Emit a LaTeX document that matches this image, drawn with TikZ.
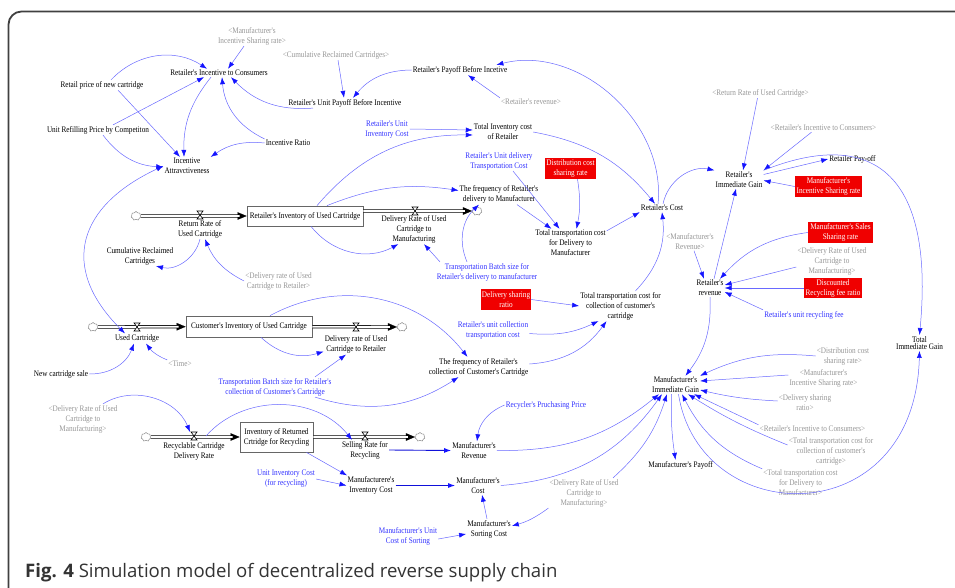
\documentclass[tikz,border=0pt]{standalone}
\usepackage{fontspec}
\newfontfamily\vensimfont[FakeStretch=0.85]{Liberation Serif}
\newfontfamily\capfont{Open Sans}
\usetikzlibrary{arrows.meta,shapes.symbols}
\definecolor{linkblue}{RGB}{105,105,255}
\definecolor{headblue}{RGB}{20,20,255}
\definecolor{constblue}{RGB}{50,50,255}
\definecolor{shadowgray}{RGB}{150,150,150}
\definecolor{boxred}{RGB}{240,0,0}
\tikzset{
  >={Latex[length=7pt,width=5pt,color=headblue]},
  var/.style={align=center, inner sep=1pt, font={\vensimfont\fontsize{8.5}{10}\selectfont}},
  shadow/.style={var, text=shadowgray},
  const/.style={var, text=constblue},
  redbox/.style={var, fill=boxred, text=white, inner sep=0pt},
  stock/.style={var, draw=black!60, line width=0.8pt, fill=white},
  sink/.style={cloud, draw=black!55, cloud puffs=7, aspect=1.1, minimum width=10pt, minimum height=9pt, inner sep=0pt},
  valve/.style={draw=black, fill=white, line width=0.6pt},
  pipe/.style={draw=black, double=white, double distance=1.8pt, line width=0.75pt, shorten >=7pt},
  pipetip/.style={line width=0.1pt, -{Triangle[length=9pt,width=7.5pt]}},
  link/.style={draw=linkblue, line width=0.5pt, ->},
  flowlink/.style={link, draw=headblue!85!black, line width=0.9pt}
}
\begin{document}
\begin{tikzpicture}[x=1pt, y=-1pt]
\useasboundingbox (0,0) rectangle (955,588);
\draw[line width=1.8pt, black!75, rounded corners=13pt] (8.5,600) -- (8.5,11.5) -- (970,11.5);

% stocks and clouds
\node[stock, minimum width=116pt, minimum height=20pt] (riuc) at (305,216) {Retailer's Inventory of Used Cartridge};
\node[stock, minimum width=126pt, minimum height=21pt] (ciuc) at (249,326.5) {Customer's Inventory of Used Cartridge};
\node[stock, minimum width=73pt, minimum height=30pt] (ircr) at (276.5,437) {Inventory of Returned\\Crtridge for Recycling};
\node[sink] (cl1) at (136,216) {};
\node[sink] (cl2) at (477,211) {};
\node[sink] (cl3) at (93,327) {};
\node[sink] (cl4) at (402,327) {};
\node[sink] (cl5) at (146,437) {};
\node[sink] (cl6) at (420,437) {};

% pipes
\draw[pipetip] (cl1) -- (riuc);
\draw[pipe] (cl1) -- (riuc);
\draw[pipetip] ([yshift=5pt]riuc.east) -- (cl2);
\draw[pipe] ([yshift=5pt]riuc.east) -- (cl2);
\draw[pipetip] (cl3) -- (ciuc);
\draw[pipe] (cl3) -- (ciuc);
\draw[pipetip] (ciuc) -- (cl4);
\draw[pipe] (ciuc) -- (cl4);
\draw[pipetip] (cl5) -- (ircr);
\draw[pipe] (cl5) -- (ircr);
\draw[pipetip] (ircr) -- (cl6);
\draw[pipe] (ircr) -- (cl6);

% valves
\foreach \vx/\vy in {200/215, 415/211, 137/327, 356/327, 194/436, 365/436}
  \draw[valve] (\vx-3,\vy-4) -- (\vx+3,\vy-4) -- (\vx-3,\vy+4) -- (\vx+3,\vy+4) -- cycle;
\coordinate (vrc) at (194,436);

% variables
\node[var] (ric) at (219,73) {Retailer's Incentive to Consumers};
\node[shadow] (misrg1) at (252,36) {<Manufacturer's\\Incentive Sharing rate>};
\node[shadow] (crcg) at (336,55) {<Cumulative Reclaimed Cartridges>};
\node[var] (rpbi) at (460,70) {Retailer's Payoff Before Incetive};
\node[var] (rupbi) at (345,103) {Retailer's Unit Payoff Before Incentive};
\node[shadow] (rrg) at (531,102) {<Retailer's revenue>};
\node[var] (rpnc) at (102,85) {Retail price of new cartridge};
\node[var] (urpc) at (98,130) {Unit Refilling Price by Competiton};
\node[var] (ir) at (288,143) {Incentive Ratio};
\node[var] (ia) at (187,166) {Incentive\\Attravctiveness};
\node[const] (ruic) at (387,129) {Retailer's Unit\\Inventory Cost};
\node[var] (ticr) at (503,132) {Total Inventory cost\\of Retailer};
\node[const] (rudtc) at (499,161) {Retailer's Unit delivery\\Transportation Cost};
\node[redbox, minimum width=51pt, minimum height=21pt] (dcsr) at (570.5,168.5) {Distribution cost\\sharing rate};
\node[var] (frdm) at (499,194.5) {The frequency of Retailer's\\delivery to Manufacturer};
\node[var] (rc) at (662,208) {Retailer's Cost};
\node[var] (ttcdm) at (570.5,243) {Total transportation cost\\for Delivery to\\Manufacturer};
\node[var] (rrflow) at (200,229) {Return Rate of\\Used Cartridge};
\node[var] (drcm) at (414,229) {Delivery Rate of Used\\Cartridge to\\Manufacturing};
\node[var] (crcart) at (140,256) {Cumulative Reclaimed\\Cartridges};
\node[shadow] (drucrg) at (278.5,281) {<Delivery rate of Used\\Cartridge to Retailer>};
\node[const] (tbsrdm) at (487,272) {Transportation Batch size for\\Retailer's delivery to manufacturer};
\node[redbox, minimum width=50pt, minimum height=21pt] (dsr) at (506,299.5) {Delivery sharing\\ratio};
\node[var] (ttccc) at (620.5,306) {Total transportation cost for\\collection of customer's\\cartridge};
\node[const] (ructc) at (493,330.5) {Retailer's unit collection\\transportation cost};
\node[var] (ucflow) at (137,338.5) {Used Cartridge};
\node[var] (drcr) at (356,344.5) {Delivery rate of Used\\Cartridge to Retailer};
\node[shadow] (timeg) at (180,364) {<Time>};
\node[var] (ncs) at (61,374) {New cartridge sale};
\node[var] (frccc) at (478.5,367) {The frequency of Retailer's\\collection of Customer's Cartridge};
\node[const] (tbsrcc) at (275,387) {Transportation Batch size for Retailer's\\collection of Customer's Cartridge};
\node[shadow] (drucmg1) at (83,419) {<Delivery Rate of Used\\Cartridge to\\Manufacturing>};
\node[var] (rcdr) at (194,451) {Recyclable Cartridge\\Delivery Rate};
\node[var] (srr) at (365,450) {Selling Rate for\\Recycling};
\node[const] (rpp) at (546,405) {Recycler's Pruchasing Price};
\node[var] (mr) at (474,450.5) {Manufacturer's\\Revenue};
\node[const] (uicr) at (286,479) {Unit Inventory Cost\\(for recycling)};
\node[var] (mic) at (371,485.5) {Manufacturere's\\Inventory Cost};
\node[var] (mc) at (478,485.5) {Manufacturer's\\Cost};
\node[shadow] (drucmg2) at (584,493) {<Delivery Rate of Used\\Cartridge to\\Manufacturing>};
\node[var] (msc) at (489,529) {Manufacturer's\\Sorting Cost};
\node[const] (mucs) at (408,536) {Manufacturer's Unit\\Cost of Sorting};

% right part
\node[shadow] (rrucg) at (760.5,93) {<Return Rate of Used Cartridge>};
\node[shadow] (ricg1) at (823.5,128) {<Retailer's Incentive to Consumers>};
\node[var] (rig) at (739,179.5) {Retailer's\\Immediate Gain};
\node[var] (rpo) at (852.5,159) {Retailer Pay-off};
\node[redbox, minimum width=67pt, minimum height=21pt] (misr) at (828.5,186.5) {Manufacturer's\\Incentive Sharing rate};
\node[shadow] (mrg) at (690,241.5) {<Manufacturer's\\Revenue>};
\node[redbox, minimum width=65pt, minimum height=21pt] (mssr) at (840.5,232.5) {Manufacturer's Sales\\Sharing rate};
\node[shadow] (drucmg3) at (832,261) {<Delivery Rate of Used\\Cartridge to\\Manufacturing>};
\node[var] (rrev) at (710,288) {Retailer's\\revenue};
\node[redbox, minimum width=58pt, minimum height=20pt] (drfr) at (833,288) {Discounted\\Recycling fee ratio};
\node[const] (rurf) at (804,315) {Retailer's unit recycling fee};
\node[var] (tig) at (919.5,343) {Total\\[-2.5pt]Immediate Gain};
\node[shadow] (dcsrg) at (843,356) {<Distribution cost\\sharing rate>};
\node[shadow] (misrg2) at (823.5,378) {<Manufacturer's\\Incentive Sharing rate>};
\node[var] (mig) at (675.5,385) {Manufacturer's\\Immediate Gain};
\node[shadow] (dsrg) at (805,403) {<Delivery sharing\\ratio>};
\node[shadow] (ricg2) at (812.5,429) {<Retailer's Incentive to Consumers>};
\node[shadow] (ttcccg) at (831,451) {<Total transportation cost for\\collection of customer's\\cartridge>};
\node[var] (mpo) at (680.5,465) {Manufacturer's Payoff};
\node[shadow] (ttcdmg) at (800.5,483) {<Total transportation cost\\for Delivery to\\Manufacturer>};

% links, incentive part
\draw[link] ([xshift=9pt]rpnc.north) to[bend left=40] ([xshift=-12pt]ric.north);
\draw[link] ([xshift=-8pt]misrg1.south) -- ([xshift=9pt]ric.north);
\draw[link] ([xshift=15pt]urpc.north) -- ([xshift=-15pt]ric.south);
\draw[link] ([xshift=-8pt]ric.south) to[bend right=20] ([xshift=-3pt]ia.north);
\draw[link] ([xshift=16pt]rpnc.south) -- ([xshift=-7pt]ia.north);
\draw[link] ([xshift=5pt]urpc.south) to[bend right=25] ([yshift=-1pt]ia.west);
\draw[link] (ir.north west) to[bend left=30] ([xshift=3pt]ric.south);
\draw[link] (ir.west) to[bend right=20] (ia.north east);
\draw[link] ([xshift=-32pt]rupbi.south) to[bend left=25] ([xshift=12pt]ric.south);
\draw[link] ([xshift=2pt]crcg.south) -- ([xshift=-1pt]rupbi.north);
\draw[link] (rpbi.west) to[bend right=25] ([xshift=8pt]rupbi.north);
\draw[link] (rrg.north west) -- ([xshift=8pt]rpbi.south);
\draw[link] ([xshift=-4pt]rc.north) to[bend right=55] ([xshift=-12pt]rpbi.north east);

% links, retailer costs
\draw[link] (ruic.east) -- ([yshift=2pt]ticr.west);
\draw[link] ([xshift=12pt]riuc.north) to[bend left=25] ([yshift=-3pt]ticr.west);
\draw[link] (ticr.east) to[bend left=20] ([xshift=-7pt]rc.north);
\draw[link] ([xshift=14pt]rudtc.south) -- ([xshift=-11pt]ttcdm.north);
\draw[link] ([xshift=7pt]dcsr.south) to[bend left=10] ([xshift=6pt]ttcdm.north);
\draw[link] ([xshift=18pt]frdm.south) -- ([xshift=-19pt]ttcdm.north);
\draw[link] ([yshift=-2pt]ttcdm.north east) -- (rc.south west);
\draw[link] ([xshift=15pt]ttccc.north) to[bend right=25] (rc.south);
\draw[link] ([xshift=22pt]riuc.north) to[bend left=15] ([yshift=4pt]frdm.west);
\draw[link] ([xshift=6pt]riuc.south) to[bend right=40] ([xshift=18pt]drcm.south west);
\draw[link] ([xshift=-47pt]tbsrdm.north) -- ([xshift=10pt]drcm.south);
\draw[link] ([xshift=-20pt]tbsrdm.north) to[bend left=35] ([xshift=-20pt]frdm.south);
\draw[link] (rrflow.south) to[bend left=45] ([xshift=16pt]crcart.south);
\draw[link] (drucrg.west) to[bend left=20] ([xshift=5pt]rrflow.south);
\draw[link, <->] (ia.west) to[out=205, in=135, looseness=1.4] ([xshift=-12pt]ucflow.north);
\draw[link] (ncs.east) to[bend right=35] ([xshift=-3pt]ucflow.south);
\draw[link] (timeg.north west) to[bend left=15] ([xshift=9pt]ucflow.south);
\draw[link] ([xshift=12pt]ciuc.south) to[bend right=30] ([yshift=-7pt]drcr.west);
\draw[link] ([xshift=40pt]tbsrcc.north) -- ([xshift=-10pt]drcr.south);
\draw[link] ([xshift=21pt]ciuc.north) to[bend left=40] ([xshift=-11pt]frccc.north);
\draw[link] ([xshift=40pt]tbsrcc.south) to[bend right=25] ([xshift=-20pt]frccc.south);
\draw[link] (dsr.east) -- (ttccc.west);
\draw[link] ([yshift=-3pt]ructc.east) to[bend right=15] ([xshift=-22pt]ttccc.south);
\draw[link] ([yshift=3pt]frccc.east) to[bend right=25] ([xshift=-14pt]ttccc.south);

% links, manufacturer
\draw[link] ([xshift=20pt]drucmg1.north) to[bend left=50] ([shift={(-4pt,4pt)}]vrc);
\draw[link] ([xshift=12pt]vrc) to[bend left=50] ([xshift=-13pt]srr.north);
\draw[link] ([xshift=30pt]ircr.south) -- ([xshift=-24pt]mic.north);
\draw[link] (uicr.east) -- (mic.west);
\draw[flowlink] (mic.east) -- (mc.west);
\draw[flowlink] (srr.east) -- (mr.west);
\draw[link] (rpp.west) to[bend right=30] ([xshift=3pt]mr.north);
\draw[link] ([xshift=-2pt]msc.north) -- ([xshift=4pt]mc.south);
\draw[link] ([yshift=-3pt]mucs.east) -- ([yshift=-5pt]msc.west);
\draw[link] (drucmg2.south west) to[bend left=10] ([yshift=3pt]msc.east);
\draw[link] (mr.east) to[bend right=20] ([xshift=8pt]mig.south west);
\draw[link] (mc.east) to[bend right=25] ([xshift=11pt]mig.south west);
\draw[link] ([xshift=29pt]drucmg2.north) to[bend right=15] ([xshift=16pt]mig.south west);

% links, gains
\draw[link] ([xshift=-3pt]rrucg.south) -- ([xshift=4pt]rig.north);
\draw[link] ([xshift=-12pt]ricg1.south) -- (rig.north east);
\draw[link] ([xshift=1pt]rc.north) to[bend left=45] (rig.north west);
\draw[link] ([yshift=5pt]rig.east) -- (rpo.west);
\draw[link] (misr.west) -- ([yshift=-1pt]rig.east);
\draw[link] ([xshift=4pt]rrev.north) -- ([xshift=-3pt]rig.south);
\draw[link] ([xshift=4pt]mrg.south) -- ([xshift=-6pt]rrev.north);
\draw[link] (mssr.west) to[bend right=20] ([xshift=10pt]rrev.north);
\draw[link] ([yshift=-6pt]drucmg3.west) -- ([yshift=3pt]rrev.east);
\draw[link] (drfr.west) -- (rrev.east);
\draw[link] (rurf.north west) -- ([yshift=-4pt]rrev.east);
\draw[link] (rrev.south) to[bend left=20] ([xshift=10pt]mig.north);
\draw[link] (rig.north east) .. controls (870,128) and (935,170) .. (tig.north);
\draw[link] ([xshift=3pt]mig.south) .. controls (700,530) and (915,535) .. (tig.south);
\draw[link] (dcsrg.west) to[bend right=15] (mig.north east);
\draw[link] ([yshift=3pt]misrg2.west) -- ([yshift=4pt]mig.east);
\draw[link] ([yshift=2pt]dsrg.west) to[bend left=5] ([yshift=-5pt]mig.east);
\draw[link] (ricg2.north west) -- ([xshift=-6pt]mig.south east);
\draw[link] ([yshift=6pt]ttcccg.west) to[bend left=5] ([xshift=-12pt]mig.south east);
\draw[link] (ttcdmg.north west) to[bend left=20] ([xshift=-18pt]mig.south east);
\draw[link] ([xshift=-4pt]mig.south) to[bend right=5] ([xshift=-5pt]mpo.north);

% caption
\node[anchor=base west, inner sep=0pt, text=black!80] (cap) at (25,577)
  {\capfont\fontsize{18.6}{21}\selectfont\textbf{Fig. 4} Simulation model of decentralized reverse supply chain};
\end{tikzpicture}
\end{document}
